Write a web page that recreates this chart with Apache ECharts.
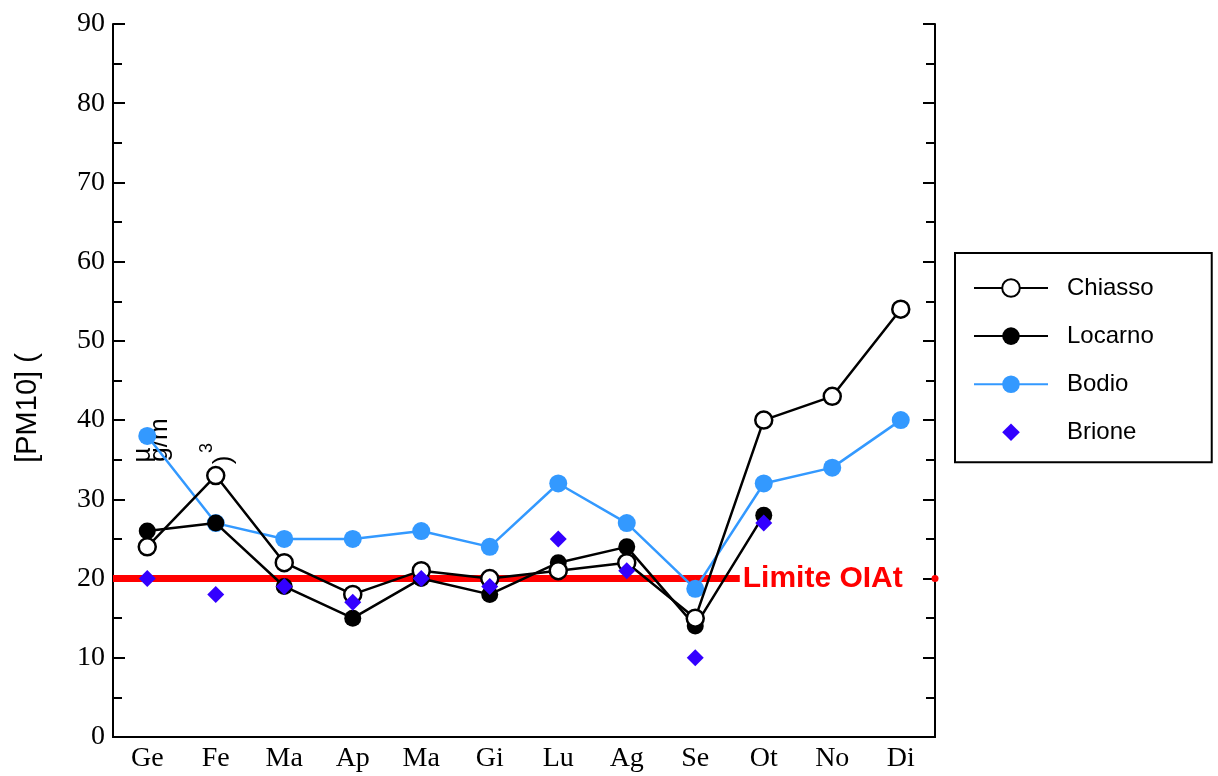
<!DOCTYPE html>
<html>
<head>
<meta charset="utf-8">
<script src="https://cdn.jsdelivr.net/npm/echarts@6/dist/echarts.min.js"></script>
<style>
  html, body { margin: 0; padding: 0; background: #fff; }
  #chart { width: 1218px; height: 776px; }
</style>
</head>
<body>
<div id="chart"></div>
<script>
// Monthly PM10 means per station
const months = ['Ge', 'Fe', 'Ma', 'Ap', 'Ma', 'Gi', 'Lu', 'Ag', 'Se', 'Ot', 'No', 'Di'];
const chiasso = [24, 33, 22, 18, 21, 20, 21, 22, 15, 40, 43, 54];
const locarno = [26, 27, 19, 15, 20, 18, 22, 24, 14, 28, null, null];
const bodio   = [38, 27, 25, 25, 26, 24, 32, 27, 18.7, 32, 34, 40];
const brione  = [20, 18, 19, 17, 20, 19, 25, 21, 10, 27, null, null];

// Legal limit (OIAt) and where its band ends along the month scale
const limitValue = 20;
const limitLabel = 'Limite OIAt';
const limitEnd = 9.15;
const limitMarker = 12;

const yTicks = { min: 0, max: 90, interval: 10 };

const serif = 'Liberation Serif';
const sans = 'Liberation Sans';

// Square diamond for the legend (padded box keeps it smaller than the row height)
const legendDiamond = 'path://M-1.25,-1.25M1.25,1.25M0,-1L1,0L0,1L-1,0Z';

const chart = echarts.init(document.getElementById('chart'), null, { renderer: 'canvas' });

const tickStyle = { color: '#000', width: 2 };

chart.setOption({
  animation: false,
  backgroundColor: '#fff',
  grid: { left: 113, right: 283, top: 24, bottom: 39 },
  xAxis: [
    {
      type: 'category', data: months, position: 'bottom',
      axisLine: { lineStyle: { color: '#000', width: 2 } },
      axisTick: { inside: true, length: 12, alignWithLabel: true, lineStyle: tickStyle },
      axisLabel: { fontFamily: serif, fontSize: 28, color: '#000', margin: 8 },
      splitLine: { show: false }
    },
    {
      type: 'category', data: months, position: 'top',
      axisLine: { lineStyle: { color: '#000', width: 2 } },
      axisTick: { inside: true, length: 12, alignWithLabel: true, lineStyle: tickStyle },
      axisLabel: { show: false },
      splitLine: { show: false }
    },
    {
      type: 'value', min: 0, max: 12, show: false
    }
  ],
  yAxis: [
    {
      type: 'value', position: 'left',
      min: yTicks.min, max: yTicks.max, interval: yTicks.interval,
      axisLine: { show: true, lineStyle: { color: '#000', width: 2 } },
      axisTick: { show: true, inside: true, length: 12, lineStyle: tickStyle },
      minorTick: { show: true, splitNumber: 2, length: 9, lineStyle: tickStyle },
      axisLabel: { fontFamily: serif, fontSize: 28, color: '#000', margin: 8 },
      splitLine: { show: false }
    },
    {
      type: 'value', position: 'right',
      min: yTicks.min, max: yTicks.max, interval: yTicks.interval,
      axisLine: { show: true, lineStyle: { color: '#000', width: 2 } },
      axisTick: { show: true, inside: true, length: 12, lineStyle: tickStyle },
      minorTick: { show: true, splitNumber: 2, length: 9, lineStyle: tickStyle },
      axisLabel: { show: false },
      splitLine: { show: false }
    }
  ],
  legend: {
    orient: 'vertical',
    left: 955, top: 253,
    padding: [23, 58, 18, 18],
    itemWidth: 74, itemHeight: 22, itemGap: 24.1,
    symbolKeepAspect: true,
    borderColor: '#000', borderWidth: 2,
    textStyle: { fontFamily: sans, fontSize: 24, color: '#000', padding: [0, 0, 0, 14] },
    data: ['Chiasso', 'Locarno', 'Bodio', { name: 'Brione', icon: legendDiamond }]
  },
  graphic: [
    {
      type: 'text', x: 28, y: 408, rotation: Math.PI / 2,
      style: { text: '[PM10] (', font: '29px "Liberation Sans"', fill: '#000', align: 'center', verticalAlign: 'middle' }
    },
    {
      type: 'text', x: 143, y: 455, rotation: Math.PI / 2,
      style: { text: 'µ', font: '26px "Liberation Sans"', fill: '#000', align: 'center', verticalAlign: 'middle' }
    },
    {
      type: 'text', x: 160, y: 440, rotation: Math.PI / 2,
      style: { text: 'g/m', font: '26px "Liberation Sans"', fill: '#000', align: 'center', verticalAlign: 'middle' }
    },
    {
      type: 'text', x: 207, y: 448, rotation: Math.PI / 2,
      style: { text: '3', font: '18px "Liberation Sans"', fill: '#000', align: 'center', verticalAlign: 'middle' }
    },
    {
      type: 'text', x: 224, y: 460, rotation: Math.PI / 2,
      style: { text: ')', font: '26px "Liberation Sans"', fill: '#000', align: 'center', verticalAlign: 'middle' }
    }
  ],
  series: [
    {
      name: 'limit', type: 'line', xAxisIndex: 2, yAxisIndex: 0,
      data: [[0, limitValue], [limitEnd, limitValue]],
      showSymbol: false, symbol: 'none', silent: true, z: 1,
      lineStyle: { color: '#ff0000', width: 7 },
      endLabel: {
        show: true, formatter: limitLabel, distance: 3,
        fontFamily: sans, fontWeight: 'bold', fontSize: 30, color: '#ff0000'
      }
    },
    {
      name: 'limitDot', type: 'scatter', xAxisIndex: 2, yAxisIndex: 0,
      data: [[limitMarker, limitValue]], symbol: 'circle', symbolSize: 7, z: 1,
      itemStyle: { color: '#ff0000', opacity: 1 }, silent: true
    },
    {
      name: 'Bodio', type: 'line', data: bodio, z: 2,
      symbol: 'circle', symbolSize: 18,
      lineStyle: { color: '#3399ff', width: 2.5 },
      itemStyle: { color: '#3399ff', borderWidth: 0 }
    },
    {
      name: 'Locarno', type: 'line', data: locarno, z: 3,
      symbol: 'circle', symbolSize: 17,
      lineStyle: { color: '#000', width: 2.5 },
      itemStyle: { color: '#000', borderWidth: 0 }
    },
    {
      name: 'Chiasso', type: 'line', data: chiasso, z: 4,
      symbol: 'circle', symbolSize: 17, showAllSymbol: true,
      lineStyle: { color: '#000', width: 2.5 },
      itemStyle: { color: '#fff', borderColor: '#000', borderWidth: 2.5 }
    },
    {
      name: 'Brione', type: 'scatter', data: brione, z: 5,
      symbol: 'diamond', symbolSize: 17,
      itemStyle: { color: '#3300ff', opacity: 1 }
    }
  ]
});
</script>
</body>
</html>
